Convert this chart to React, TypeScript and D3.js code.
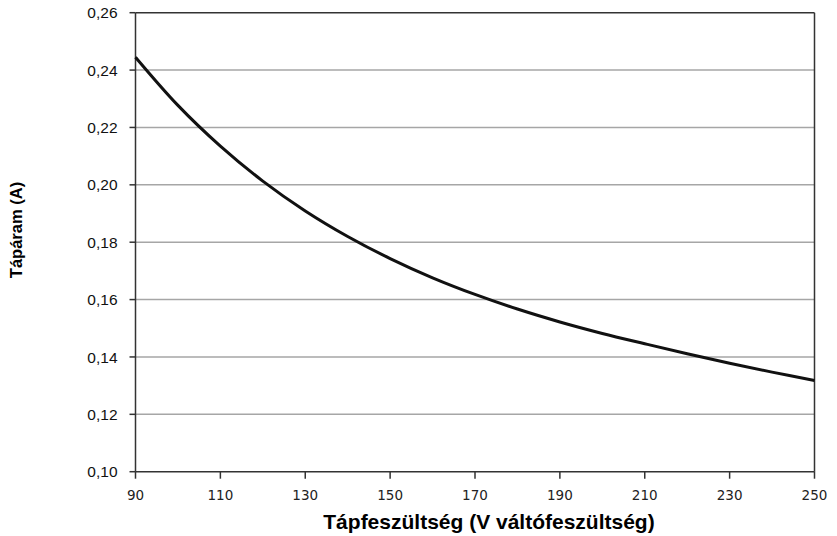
import React from "react";
import * as d3 from "d3";

const voltages = [90, 100, 110, 120, 130, 140, 150, 160, 170, 180, 190, 200, 210, 220, 230, 240, 250];
const currents = [0.2445, 0.2277, 0.2135, 0.2013, 0.1909, 0.182, 0.1743, 0.1676, 0.1618, 0.1567, 0.1522, 0.1482, 0.1446, 0.1411, 0.1378, 0.1347, 0.1318];
const xTicks = [90, 110, 130, 150, 170, 190, 210, 230, 250];
const yTicks = [0.1, 0.12, 0.14, 0.16, 0.18, 0.2, 0.22, 0.24, 0.26];
const xTitle = "Tápfeszültség (V váltófeszültség)";
const yTitle = "Tápáram (A)";

const W = 837;
const H = 536;
const left = 135.5;
const right = 814.5;
const top = 12.7;
const bottom = 471.7;

export default function App() {
  const x = d3.scaleLinear().domain([90, 250]).range([left, right]);
  const y = d3.scaleLinear().domain([0.1, 0.26]).range([bottom, top]);
  const pts: [number, number][] = voltages.map((v, i) => [v, currents[i]]);
  const line = d3
    .line<[number, number]>()
    .x((d) => x(d[0]))
    .y((d) => y(d[1]))
    .curve(d3.curveCatmullRom);
  const fmt = (v: number) => v.toFixed(2).replace(".", ",");
  return (
    <svg
      width={W}
      height={H}
      style={{ position: "absolute", left: 0, top: 0, background: "#fff" }}
    >
      <rect x={0} y={0} width={W} height={H} fill="#fff" />
      {yTicks.map((t) =>
        t > 0.1 && t < 0.26 ? (
          <line key={"g" + t} x1={left} x2={right} y1={y(t)} y2={y(t)} stroke="#a6a6a6" strokeWidth={1.5} />
        ) : null
      )}
      <line x1={left} x2={right} y1={top} y2={top} stroke="#333" strokeWidth={1.5} />
      <line x1={right} x2={right} y1={top} y2={bottom} stroke="#333" strokeWidth={1.5} />
      <line x1={left} x2={right} y1={bottom} y2={bottom} stroke="#333" strokeWidth={1.5} />
      <line x1={left} x2={left} y1={top} y2={bottom} stroke="#333" strokeWidth={1.5} />
      {yTicks.map((t) => (
        <g key={"y" + t}>
          <line x1={left - 6} x2={left} y1={y(t)} y2={y(t)} stroke="#333" strokeWidth={1.5} />
          <text
            x={117.5}
            y={y(t)}
            dy="0.36em"
            textAnchor="end"
            fontFamily="Liberation Sans, Arial, sans-serif"
            fontSize={15.5}
            fill="#111"
          >
            {fmt(t)}
          </text>
        </g>
      ))}
      {xTicks.map((t) => (
        <g key={"x" + t}>
          <line x1={x(t)} x2={x(t)} y1={bottom} y2={bottom + 7} stroke="#333" strokeWidth={1.5} />
          <text
            x={x(t)}
            y={495}
            dy="0.36em"
            textAnchor="middle"
            fontFamily="DejaVu Sans, Verdana, sans-serif"
            fontSize={13.5}
            fill="#222"
          >
            {t}
          </text>
        </g>
      ))}
      <path d={line(pts) || ""} fill="none" stroke="#111" strokeWidth={3} />
      <text
        x={489}
        y={529}
        textAnchor="middle"
        fontFamily="Liberation Sans, Arial, sans-serif"
        fontWeight="bold"
        fontSize={21}
        fill="#000"
      >
        {xTitle}
      </text>
      <text
        transform={`translate(16.5,230) rotate(-90)`}
        dy="0.36em"
        textAnchor="middle"
        fontFamily="Liberation Sans, Arial, sans-serif"
        fontWeight="bold"
        fontSize={16.5}
        fill="#000"
      >
        {yTitle}
      </text>
    </svg>
  );
}
